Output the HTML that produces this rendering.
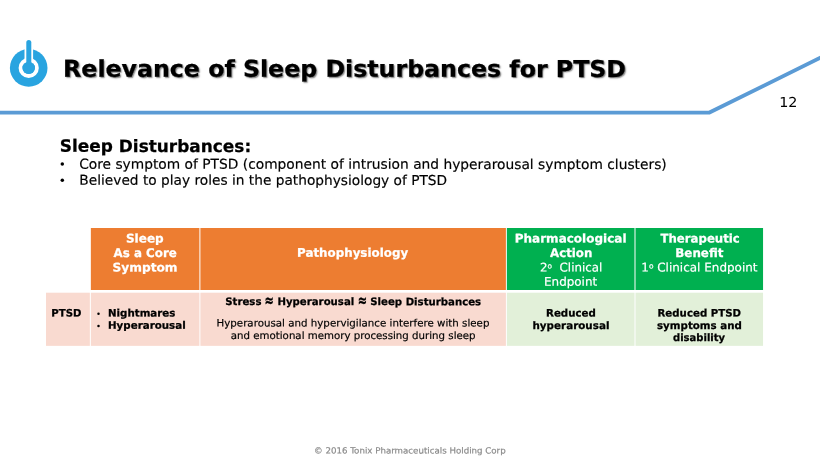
<!DOCTYPE html><html lang="en"><head><meta charset="utf-8"><title>Relevance of Sleep Disturbances for PTSD</title><style>
html,body{margin:0;padding:0;background:#fff;}
body{width:820px;height:461px;position:relative;overflow:hidden;font-family:"DejaVu Sans", "Liberation Sans", sans-serif;}
#s{position:absolute;left:0;top:0;width:820px;height:461px;will-change:transform;}
.t{position:absolute;white-space:nowrap;transform-origin:0 0;line-height:1;margin:0;padding:0;text-rendering:geometricPrecision;}
.o{font-size:62%;position:relative;top:-0.38em;}
.ap{display:inline-block;font-size:125%;line-height:1;transform:scale(0.88,1.3);transform-origin:50% 88%;margin:0 -0.07em;vertical-align:baseline;position:relative;top:0.19em;}
.r{position:absolute;}
svg{position:absolute;left:0;top:0;}
</style></head><body><div id="s">
<svg width="820" height="461" viewBox="0 0 820 461">
<rect x="90.85" y="228.0" width="108.55" height="62.0" fill="#ED7D31"/><rect x="200.4" y="228.0" width="305.5" height="62.0" fill="#ED7D31"/><rect x="506.85" y="228.0" width="127.65" height="62.0" fill="#00B050"/><rect x="635.5" y="228.0" width="127.55" height="62.0" fill="#00B050"/><rect x="46.0" y="292.7" width="43.85" height="53.15" fill="#F9DAD0"/><rect x="90.85" y="292.7" width="108.55" height="53.15" fill="#F9DAD0"/><rect x="200.4" y="292.7" width="305.5" height="53.15" fill="#F9DAD0"/><rect x="506.85" y="292.7" width="127.65" height="53.15" fill="#E2F0D9"/><rect x="635.5" y="292.7" width="127.55" height="53.15" fill="#E2F0D9"/>
<polyline points="-2,112.6 709.4,112.6 824,56.0" fill="none" stroke="#5B9BD5" stroke-width="3.85" stroke-linejoin="miter"/>
<g>
<circle cx="28.7" cy="67.9" r="18.8" fill="#29A4E0"/>
<circle cx="28.7" cy="67.9" r="8.15" fill="none" stroke="#fff" stroke-width="3.9"/>
<line x1="28.8" y1="43" x2="28.8" y2="64" stroke="#fff" stroke-width="8.6" stroke-linecap="butt"/>
<circle cx="28.7" cy="67.9" r="6.2" fill="#29A4E0"/>
<line x1="28.8" y1="42.4" x2="28.8" y2="64" stroke="#29A4E0" stroke-width="5" stroke-linecap="round"/>
</g>
<circle cx="62.3" cy="163.9" r="1.75" fill="#000"/><circle cx="62.3" cy="180.2" r="1.75" fill="#000"/><circle cx="98.5" cy="313.8" r="1.25" fill="#000"/><circle cx="98.5" cy="325.9" r="1.25" fill="#000"/>
</svg>

<div class="t" style="left:63px;top:57px;font-size:23.2px;font-weight:700;color:#000;transform:matrix(1.0210,0.0005,0,1,0.10,0.66);-webkit-text-stroke:0.25px #000;text-shadow:1.2px 1.2px 1.5px rgba(0,0,0,0.5);">Relevance of Sleep Disturbances for PTSD</div>
<div class="t" style="left:779px;top:96px;font-size:13.67px;font-weight:400;color:#000;transform:matrix(1.0518,0.0005,0,1,0.20,0.90);">12</div>
<div class="t" style="left:59px;top:138px;font-size:17.0px;font-weight:700;color:#000;transform:matrix(0.9960,0.0005,0,1,0.80,0.85);-webkit-text-stroke:0.25px #000;">Sleep Disturbances:</div>
<div class="t" style="left:79px;top:158px;font-size:13.67px;font-weight:400;color:#000;transform:matrix(1.0095,0.0005,0,1,0.15,0.70);-webkit-text-stroke:0.18px #000;">Core symptom of PTSD (component of intrusion and hyperarousal symptom clusters)</div>
<div class="t" style="left:79px;top:174px;font-size:13.67px;font-weight:400;color:#000;transform:matrix(1.0048,0.0005,0,1,0.35,0.76);-webkit-text-stroke:0.18px #000;">Believed to play roles in the pathophysiology of PTSD</div>
<div class="t" style="left:125px;top:233px;font-size:11.96px;font-weight:700;color:#fff;transform:matrix(1.0069,0.0005,0,1,0.95,0.59);-webkit-text-stroke:0.25px #fff;">Sleep</div>
<div class="t" style="left:113px;top:247px;font-size:11.96px;font-weight:700;color:#fff;transform:matrix(0.9921,0.0005,0,1,0.60,0.98);-webkit-text-stroke:0.25px #fff;">As a Core</div>
<div class="t" style="left:112px;top:262px;font-size:11.96px;font-weight:700;color:#fff;transform:matrix(1.0201,0.0005,0,1,0.50,0.48);-webkit-text-stroke:0.25px #fff;">Symptom</div>
<div class="t" style="left:297px;top:247px;font-size:11.96px;font-weight:700;color:#fff;transform:matrix(0.9932,0.0005,0,1,0.00,0.77);-webkit-text-stroke:0.25px #fff;">Pathophysiology</div>
<div class="t" style="left:514px;top:233px;font-size:11.96px;font-weight:700;color:#fff;transform:matrix(1.0046,0.0005,0,1,0.75,0.57);-webkit-text-stroke:0.25px #fff;">Pharmacological</div>
<div class="t" style="left:550px;top:247px;font-size:11.96px;font-weight:700;color:#fff;transform:matrix(0.9881,0.0005,0,1,0.00,0.99);-webkit-text-stroke:0.25px #fff;">Action</div>
<div class="t" style="left:540px;top:262px;font-size:11.96px;font-weight:400;color:#fff;transform:matrix(0.9918,0.0005,0,1,0.00,0.49);-webkit-text-stroke:0.18px #fff;">2<span class="o">o</span>&nbsp; Clinical</div>
<div class="t" style="left:544px;top:276px;font-size:11.96px;font-weight:400;color:#fff;transform:matrix(1.0000,0.0005,0,1,0.00,0.79);-webkit-text-stroke:0.18px #fff;">Endpoint</div>
<div class="t" style="left:660px;top:233px;font-size:11.96px;font-weight:700;color:#fff;transform:matrix(0.9812,0.0005,0,1,0.50,0.58);-webkit-text-stroke:0.25px #fff;">Therapeutic</div>
<div class="t" style="left:675px;top:247px;font-size:11.96px;font-weight:700;color:#fff;transform:matrix(0.9947,0.0005,0,1,0.25,0.99);-webkit-text-stroke:0.25px #fff;">Benefit</div>
<div class="t" style="left:641px;top:262px;font-size:11.96px;font-weight:400;color:#fff;transform:matrix(1.0022,0.0005,0,1,0.25,0.47);-webkit-text-stroke:0.18px #fff;">1<span class="o">o</span> Clinical Endpoint</div>
<div class="t" style="left:51px;top:308px;font-size:10.25px;font-weight:700;color:#000;transform:matrix(0.9915,0.0005,0,1,0.25,0.59);-webkit-text-stroke:0.25px #000;">PTSD</div>
<div class="t" style="left:108px;top:308px;font-size:10.25px;font-weight:700;color:#000;transform:matrix(1.0000,0.0005,0,1,0.00,0.58);-webkit-text-stroke:0.25px #000;">Nightmares</div>
<div class="t" style="left:108px;top:320px;font-size:10.25px;font-weight:700;color:#000;transform:matrix(1.0033,0.0005,0,1,0.00,0.78);-webkit-text-stroke:0.25px #000;">Hyperarousal</div>
<div class="t" style="left:225px;top:296px;font-size:10.25px;font-weight:700;color:#000;transform:matrix(0.9922,0.0005,0,1,0.25,0.04);-webkit-text-stroke:0.25px #000;">Stress <span class="ap">≈</span> Hyperarousal <span class="ap">≈</span> Sleep Disturbances</div>
<div class="t" style="left:216px;top:318px;font-size:10.25px;font-weight:400;color:#000;transform:matrix(1.0018,0.0005,0,1,0.50,0.48);-webkit-text-stroke:0.18px #000;">Hyperarousal and hypervigilance interfere with sleep</div>
<div class="t" style="left:230px;top:330px;font-size:10.25px;font-weight:400;color:#000;transform:matrix(0.9980,0.0005,0,1,0.75,0.99);-webkit-text-stroke:0.18px #000;">and emotional memory processing during sleep</div>
<div class="t" style="left:546px;top:308px;font-size:10.25px;font-weight:700;color:#000;transform:matrix(1.0000,0.0005,0,1,0.00,0.59);-webkit-text-stroke:0.25px #000;">Reduced</div>
<div class="t" style="left:532px;top:320px;font-size:10.25px;font-weight:700;color:#000;transform:matrix(1.0100,0.0005,0,1,0.50,0.98);-webkit-text-stroke:0.25px #000;">hyperarousal</div>
<div class="t" style="left:657px;top:308px;font-size:10.25px;font-weight:700;color:#000;transform:matrix(0.9970,0.0005,0,1,0.50,0.58);-webkit-text-stroke:0.25px #000;">Reduced PTSD</div>
<div class="t" style="left:657px;top:320px;font-size:10.25px;font-weight:700;color:#000;transform:matrix(1.0030,0.0005,0,1,0.00,0.98);-webkit-text-stroke:0.25px #000;">symptoms and</div>
<div class="t" style="left:673px;top:332px;font-size:10.25px;font-weight:700;color:#000;transform:matrix(0.9764,0.0005,0,1,0.00,0.99);-webkit-text-stroke:0.25px #000;">disability</div>
<div class="t" style="left:314px;top:447px;font-size:8.54px;font-weight:400;color:#898989;transform:matrix(1.0147,0.0005,0,1,0.10,0.45);-webkit-text-stroke:0.18px #898989;">© 2016 Tonix Pharmaceuticals Holding Corp</div>
</div></body></html>
